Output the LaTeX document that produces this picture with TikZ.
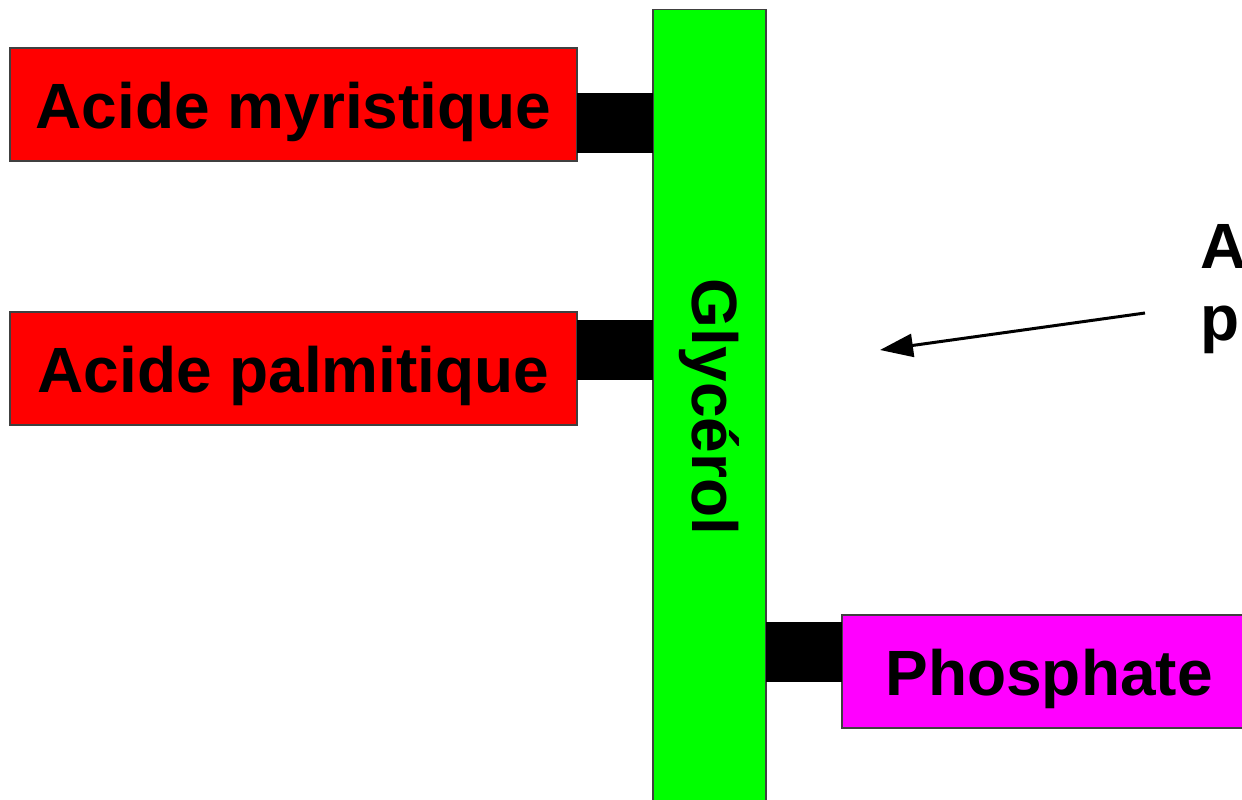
\documentclass[tikz,border=0pt]{standalone}
\usepackage{fontspec}
\setmainfont{Liberation Sans}
\usetikzlibrary{arrows.meta}
\definecolor{acidred}{RGB}{255,0,0}
\definecolor{glygreen}{RGB}{0,255,0}
\definecolor{phosmag}{RGB}{255,0,255}
\tikzset{
  boldlabel/.style={font=\fontsize{18.2}{21}\selectfont\bfseries, text=black},
  block/.style={draw=black!75, line width=0.4pt, inner sep=0pt, boldlabel,
    text height=0.6cm, text depth=0.13cm},
  acidbox/.style={block, fill=acidred, minimum width=5.67cm, minimum height=1.13cm},
  linkbar/.style={fill=black, inner sep=0pt, minimum width=0.76cm, minimum height=0.6cm},
  pointer/.style={line width=0.3mm, -{Triangle[length=0.33cm, width=0.23cm]}},
  sidetext/.style={inner sep=0pt, anchor=base west, boldlabel}
}
\begin{document}
\begin{tikzpicture}[x=0.01cm, y=-0.01cm]
  \useasboundingbox[fill=white] (0,0) rectangle (1242,800);
  % glycerol backbone
  \node[draw=black!75, line width=0.4pt, fill=glygreen, inner sep=0pt,
        minimum width=1.13cm, minimum height=7.94cm] (gly) at (709.5,407) {};
  \node[rotate=-90, boldlabel] (glytext) at (gly.center) {Glycérol};
  % fatty acid chains
  \node[acidbox] (myr) at (293.5,104.5) {Acide myristique};
  \node[acidbox] (pal) at (293.5,368.5) {Acide palmitique};
  % phosphate head
  \node[block, fill=phosmag, minimum width=4.14cm, minimum height=1.13cm] (phos) at (1049,671.5) {Phosphate};
  % ester / phosphoester links
  \node[linkbar] (bar1) at (615,123) {};
  \node[linkbar] (bar2) at (615,350) {};
  \node[linkbar] (bar3) at (804,652) {};
  % label with pointer
  \node[sidetext] (labA) at (1200,268) {A};
  \node[sidetext] (labp) at (1200,340) {p};
  \coordinate (ptrstart) at (1145,313);
  \coordinate (ptrend) at (880,350);
  \draw[pointer] (ptrstart) -- (ptrend);
\end{tikzpicture}
\end{document}
